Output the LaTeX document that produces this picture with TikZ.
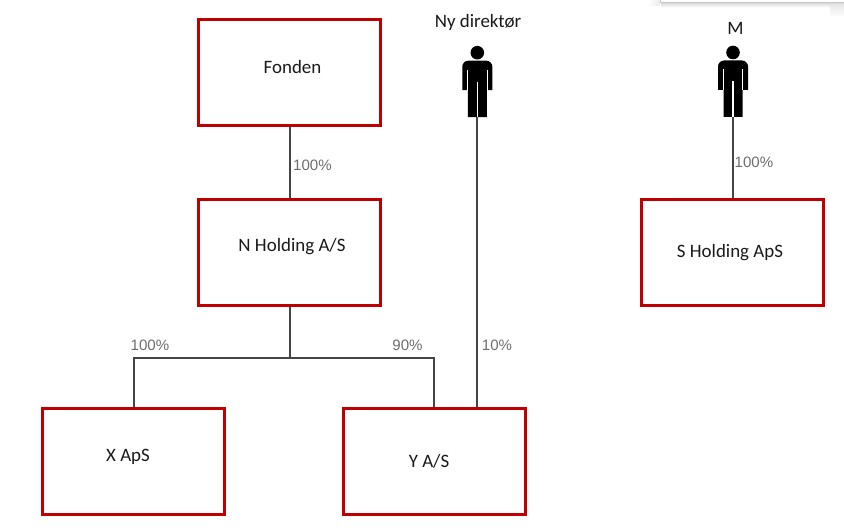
\documentclass[tikz,border=0pt]{standalone}
\usepackage{fontspec}
\setmainfont{Carlito}
\newfontfamily\pctfont{Liberation Sans}
\definecolor{boxred}{HTML}{C00000}
\definecolor{linegray}{HTML}{454545}
\definecolor{pctgray}{HTML}{6E6E6E}
\definecolor{txt}{HTML}{1A1A1A}
\tikzset{
  box/.style={draw=boxred, line width=2.25pt, fill=white, minimum width=136.5pt, minimum height=79.5pt, inner sep=0pt},
  conn/.style={draw=linegray, line width=1.5pt},
  lbl/.style={font=\fontsize{14.2}{17}\selectfont, text=txt, inner sep=0pt, anchor=base},
  pct/.style={font=\pctfont\fontsize{11.3}{13}\selectfont, text=pctgray, inner sep=0pt, anchor=base},
  person/.pic={
    \fill[black] (0,0) circle (6.8);
    \fill[black] (-9.5,64.5) -- (-9.5,37.5) -- (-15,37.5) -- (-15,20) [rounded corners=4.5pt] -- (-15,8) -- (15,8) -- (15,20) [sharp corners] -- (15,37.5) -- (9.5,37.5) -- (9.5,64.5) -- cycle;
    \draw[white, line width=0.8pt] (-9.9,17) -- (-9.9,38) (9.9,17) -- (9.9,38);
    \draw[white, line width=1pt] (0,29) -- (0,65.5);
  }
}
\begin{document}
\begin{tikzpicture}[x=0.75pt, y=-0.75pt]
\useasboundingbox (0,0) rectangle (844,531);
\fill[white] (0,0) rectangle (844,531);

% window edge at top right
\shade[left color=white, right color=gray!15] (648,0) rectangle (659.5,6);
\shade[top color=gray!25, bottom color=white] (661,3.5) rectangle (844,7.5);
\shade[top color=gray!18, bottom color=white] (830,5) rectangle (844,17);
\fill[white] (660,0) rectangle (844,3);
\draw[gray!45, line width=0.75pt] (660,0) -- (660,3) -- (844,3);

% boxes
\node[box] (fonden) at (289.5,73) {};
\node[box] (nhold) at (289.5,252.5) {};
\node[box] (xaps) at (133.5,462) {};
\node[box] (yas) at (434,462) {};
\node[box] (shold) at (732.5,252.5) {};

% box texts
\node[lbl] (fondentxt) at (292.5,74) {Fonden};
\node[lbl] (nholdtxt) at (292,252) {N Holding A/S};
\node[lbl] (xapstxt) at (128,462) {X ApS};
\node[lbl] (yastxt) at (429,468) {Y A/S};
\node[lbl] (sholdtxt) at (730,258) {S Holding ApS};

% persons
\pic at (477.3,52.7) {person};
\coordinate (dirfeet) at (477.3,117);
\node[lbl] (dirtxt) at (478,28) {Ny direktør};
\pic at (733,52.5) {person};
\coordinate (mfeet) at (733,117);
\node[lbl] (mtxt) at (735.5,35) {M};

% connectors
\draw[conn] (fonden.south) -- (nhold.north);
\draw[conn] (nhold.south) -- ++(0,51.5) coordinate (split) -| (xaps.north);
\draw[conn] (split) -| (yas.north);
\draw[conn] (dirfeet) -- (dirfeet |- yas.north);
\draw[conn] (mfeet) -- (mfeet |- shold.north);

% percentages
\node[pct] (p1) at (312.5,171) {100\%};
\node[pct] (p2) at (150,351) {100\%};
\node[pct] (p3) at (407.5,351) {90\%};
\node[pct] (p4) at (497,351) {10\%};
\node[pct] (p5) at (754,168) {100\%};
\end{tikzpicture}
\end{document}
